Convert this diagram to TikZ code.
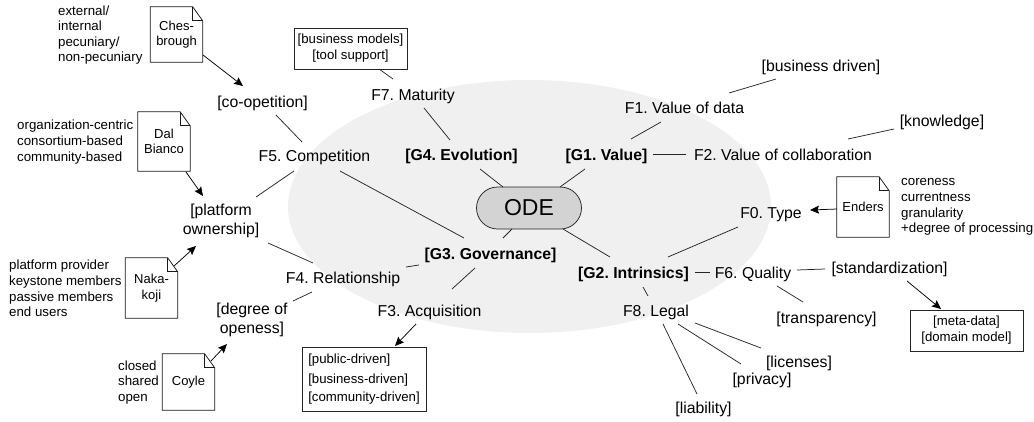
\documentclass[tikz,border=0pt]{standalone}
\usepackage{fontspec}
\setmainfont{Liberation Sans}
\usetikzlibrary{arrows.meta, shapes, positioning}

\definecolor{odefill}{RGB}{211,211,211}
\definecolor{cloudfill}{RGB}{240,240,240}

\begin{document}
\begin{tikzpicture}[
		  x=1pt, y=-1pt,
		  % plain labels of the factors and options
		  factor/.style={font=\frenchspacing\fontsize{15.8}{19.5}\selectfont, align=center, inner sep=0pt},
		  % one line labels keep a common height
		  single/.style={factor, text height=11.5pt, text depth=0pt},
		  % the four goals round the centre
		  goal/.style={font=\frenchspacing\fontsize{15.8}{19}\selectfont\bfseries, inner sep=0pt, text height=11.5pt, text depth=0pt},
		  % small boxes of options
		  optbox/.style={draw=black!85, line width=0.75pt, font=\frenchspacing\fontsize{13.2}{16}\selectfont, align=center, inner sep=0pt},
		  % the small texts beside the documents
		  note/.style={font=\fontsize{13.3}{15.6}\selectfont, align=left, inner sep=0pt},
		  % the documents
		  docnode/.style={minimum width=52pt, font=\fontsize{13}{15.6}\selectfont, align=center, inner sep=0pt},
		  docline/.style={draw=black!90, line width=0.75pt},
		  % the connectors
		  link/.style={draw=black!85, line width=0.75pt},
		  arrow/.style={-{Stealth[length=9pt, width=8pt, inset=1.5pt]}, draw=black, line width=0.75pt}
		  ]

		  % Background
		  \useasboundingbox (0,0) rectangle (1034,421);
		  \node[ellipse, fill=cloudfill, minimum width=483pt, minimum height=253pt, inner sep=0pt] (cloud) at (529.5, 206.5) {};

		  % Centre
		  \node[rounded rectangle, draw=black!85, fill=odefill, line width=0.75pt, minimum width=105pt, minimum height=42pt, font=\fontsize{23}{26}\selectfont, inner sep=0pt] (ode) at (529, 208) {ODE};

		  % Goals
		  \node[goal] (g1) at (606.5, 155) {[G1. Value]};
		  \node[goal] (g2) at (633.5, 273) {[G2. Intrinsics]};
		  \node[goal] (g3) at (490.5, 254) {[G3. Governance]};
		  \node[goal] (g4) at (461.5, 155) {[G4. Evolution]};

		  % Factors
		  \node[single] (f0) at (771, 213) {F0. Type};
		  \node[single] (f1) at (684.5, 108) {F1. Value of data};
		  \node[single] (f2) at (783, 155) {F2. Value of collaboration};
		  \node[single] (f3) at (429.5, 311) {F3. Acquisition};
		  \node[single] (f4) at (343, 278) {F4. Relationship};
		  \node[single] (f5) at (314.5, 156) {F5. Competition};
		  \node[single] (f6) at (753, 273) {F6. Quality};
		  \node[single] (f7) at (413, 95) {F7. Maturity};
		  \node[single] (f8) at (656, 311) {F8. Legal};

		  % Options
		  \node[single] (businessdriven) at (821, 66) {[business driven]};
		  \node[single] (knowledge) at (942, 121) {[knowledge]};
		  \node[single] (coopetition) at (262.5, 102) {[co-opetition]};
		  \node[factor] (ownership) at (221, 221) {[platform\\ownership]};
		  \node[factor] (openess) at (252, 320) {[degree of\\openess]};
		  \node[single] (standard) at (889.5, 268) {[standardization]};
		  \node[single] (transparency) at (826.5, 318) {[transparency]};
		  \node[single] (licenses) at (799, 362) {[licenses]};
		  \node[single] (privacy) at (762, 379) {[privacy]};
		  \node[single] (liability) at (703.5, 408) {[liability]};

		  % Boxes
		  \node[optbox, minimum width=113pt, minimum height=41pt] (modelsbox) at (350.5, 48.5) {[business models]\\{}[tool support]};
		  \node[optbox, minimum width=124pt, minimum height=64pt, align=left] (drivenbox) at (364, 379) {[public-driven]\\[3.5pt]{}[business-driven]\\[2pt]{}[community-driven]};
		  \node[optbox, minimum width=113pt, minimum height=41pt] (metabox) at (966.5, 330.5) {[meta-data]\\{}[domain model]};

		  % Documents
		  \foreach \name/\x/\y/\high/\info in {chesbrough/176.5/34.5/55/Ches-\\brough, dalbianco/164/141.5/59/Dal\\Bianco, nakakoji/151.5/288/60/Naka-\\koji, coyle/188.5/382/56/Coyle, enders/863/207/60/Enders} {
		    \node[docnode, minimum height=\high pt] (\name) at (\x, \y) {\info};
		    \draw[docline] (\name.north west) -- ([xshift=-10pt]\name.north east) -- ([yshift=-14pt]\name.north east) -- (\name.south east) -- (\name.south west) -- cycle;
		    \draw[docline] ([xshift=-10pt]\name.north east) |- ([yshift=-14pt]\name.north east);
		  }

		  % Notes
		  \node[note, anchor=west] (chesnote) at (58, 35) {external/\\internal\\pecuniary/\\non-pecuniary};
		  \node[note, anchor=west] (dalnote) at (17, 142) {organization-centric\\consortium-based\\community-based};
		  \node[note, anchor=west] (nakanote) at (9, 288.5) {platform provider\\keystone members\\passive members\\end users};
		  \node[note, anchor=west] (coylenote) at (118, 382.5) {closed\\shared\\open};
		  \node[note, anchor=west] (endersnote) at (901, 207) {coreness\\currentness\\granularity\\+degree of processing};

		  % Connect the nodes
		  \foreach \a/\ax/\ay/\b/\bx/\by in {
		    f1/44.5/-15/businessdriven/-45/13, g1/24.5/-16/f1/-23.5/14, g1/46.5/-1/f2/-97/-1,
		    f2/65/-16/knowledge/-48/8, g2/34.5/-16/f0/-33/14, g2/61.5/-1/f6/-43/-1,
		    f6/44/-3/standard/-64.5/1, f6/24/13/transparency/-23.5/-16, g2/9.5/14/f8/-8/-15,
		    f8/39/12/licenses/-38/-14, f8/22/13/privacy/-21/-15, f8/7/13/liability/-6.5/-14,
		    coopetition/13.5/13/f5/-12.5/-14, f5/-20.5/15/ownership/35/-24, ownership/47/22/f4/-30/-15,
		    f4/-31/14/openess/41/-19, g3/-71.5/11/f4/63/-11, g3/-26.5/-16/f5/25.5/15,
		    g3/-15.5/14/f3/22.5/-22, g4/-11.5/-15/f7/11/13, f7/-20/-16/modelsbox/28.5/20.5,
		    g4/18.5/14/ode/-26/-21, g1/-21.5/14/ode/31/-21, g2/-23.5/-16/ode/34/21, g3/12.5/-16/ode/-17/21} {
		    \draw[link] ([shift={(\ax,\ay)}]\a.center) -- ([shift={(\bx,\by)}]\b.center);
		  }

		  % Arrows
		  \foreach \a/\ax/\ay/\b/\bx/\by in {
		    chesbrough/26.5/20.5/coopetition/-19.5/-16, dalbianco/22/30.5/ownership/-18/-25,
		    nakakoji/22.5/-22/ownership/-25/25, coyle/22.5/-21/openess/-25/24,
		    enders/-26/2/f0/39/-3, standard/17.5/13/metabox/-25.5/-21.5, f3/-13.5/13/drivenbox/31/-33} {
		    \draw[arrow] ([shift={(\ax,\ay)}]\a.center) -- ([shift={(\bx,\by)}]\b.center);
		  }
    \end{tikzpicture}
\end{document}
